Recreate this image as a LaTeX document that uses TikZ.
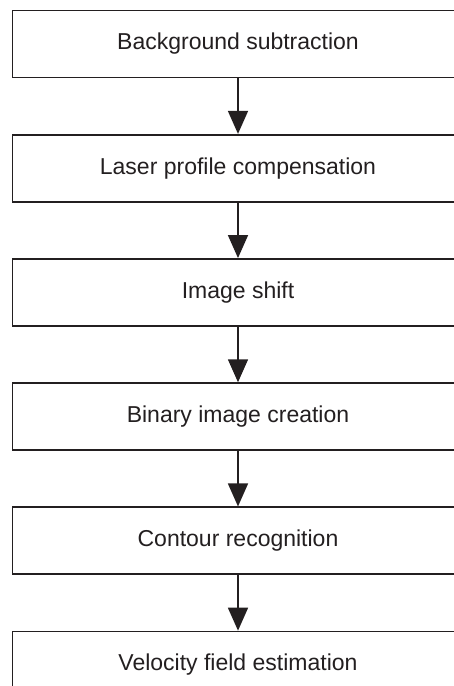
\documentclass[tikz,border=0pt]{standalone}
\usepackage{fontspec}
\setsansfont{Liberation Sans}
\usepackage{tikz}
\usetikzlibrary{arrows.meta, positioning}
\definecolor{inkblack}{HTML}{231F20}

\begin{document}
\begin{tikzpicture}[x=1pt, y=1pt,
    stage/.style={draw=inkblack, line width=1.7pt, fill=white,
                  minimum width=451pt, minimum height=67pt, inner sep=0pt,
                  font=\sffamily\fontsize{23}{27}\selectfont, text=inkblack},
    flow/.style={-{Triangle[length=23pt, width=20pt]}, line width=1.6pt, inkblack},
    node distance=55.5pt,
]
    \clip (0, 0) rectangle (454, -686);

    % === processing chain ===
    \node[stage] (bgsub) at (238, -44) {Background subtraction};
    \node[stage, below=of bgsub] (laser) {Laser profile compensation};
    \node[stage, below=of laser] (shift) {Image shift};
    \node[stage, below=of shift] (binary) {Binary image creation};
    \node[stage, below=of binary] (contour) {Contour recognition};
    \node[stage, below=of contour] (velocity) {Velocity field estimation};

    % arrows between stages
    \draw[flow] (bgsub) -- (laser);
    \draw[flow] (laser) -- (shift);
    \draw[flow] (shift) -- (binary);
    \draw[flow] (binary) -- (contour);
    \draw[flow] (contour) -- (velocity);
\end{tikzpicture}
\end{document}
